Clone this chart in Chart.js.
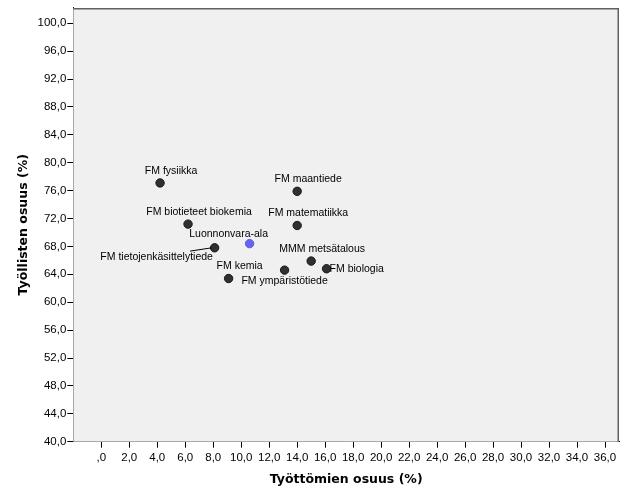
<!DOCTYPE html>
<html>
<head>
<meta charset="utf-8">
<script src="https://cdn.jsdelivr.net/npm/chart.js@4"></script>
<style>
  html, body { margin: 0; padding: 0; background: #ffffff; }
  #wrap { width: 626px; height: 501px; position: relative; }
</style>
</head>
<body>
<div id="wrap"><canvas id="c" width="626" height="501"></canvas></div>
<script>
// ---- data ----
const categories = [
  "FM fysiikka",
  "FM maantiede",
  "FM biotieteet biokemia",
  "FM matematiikka",
  "Luonnonvara-ala",
  "FM tietojenkäsittelytiede",
  "MMM metsätalous",
  "FM biologia",
  "FM kemia",
  "FM ympäristötiede"
];
// Työttömien osuus (%)
const unemployedShare = [4.2, 14.0, 6.2, 14.0, 10.6, 8.1, 15.0, 16.1, 9.1, 13.1];
// Työllisten osuus (%)
const employedShare = [77.1, 75.9, 71.2, 71.0, 68.4, 67.8, 65.9, 64.8, 63.4, 64.6];
const highlighted = ["Luonnonvara-ala"];

const xTickValues = [0, 2, 4, 6, 8, 10, 12, 14, 16, 18, 20, 22, 24, 26, 28, 30, 32, 34, 36];
const xTickLabels = [",0", "2,0", "4,0", "6,0", "8,0", "10,0", "12,0", "14,0", "16,0", "18,0", "20,0", "22,0", "24,0", "26,0", "28,0", "30,0", "32,0", "34,0", "36,0"];
const yTickValues = [40, 44, 48, 52, 56, 60, 64, 68, 72, 76, 80, 84, 88, 92, 96, 100];
const yTickLabels = ["40,0", "44,0", "48,0", "52,0", "56,0", "60,0", "64,0", "68,0", "72,0", "76,0", "80,0", "84,0", "88,0", "92,0", "96,0", "100,0"];

const xTitle = "Työttömien osuus (%)";
const yTitle = "Työllisten osuus (%)";

// ---- style (label placement relative to point, in px) ----
const defaultLabelOffset = { dx: 11, dy: -12, align: "center" };
const labelOffsets = {
  "Luonnonvara-ala": { dx: -21, dy: -9.5, align: "center" },
  "FM tietojenkäsittelytiede": { dx: -58, dy: 9.7, align: "center", leader: { dx: -24.5, dy: 3.3 } },
  "FM biologia": { dx: 3, dy: 0.5, align: "left" },
  "FM ympäristötiede": { dx: 0, dy: 11, align: "center" }
};

const points = categories.map((c, i) => ({ x: unemployedShare[i], y: employedShare[i] }));
const pointColors = categories.map(c => highlighted.includes(c) ? "#6464f2" : "#303030");
const pointBorders = categories.map(c => highlighted.includes(c) ? "#5a5ae0" : "#1a1a1a");

const plotDecor = {
  id: "plotDecor",
  beforeDatasetsDraw(chart) {
    const { ctx, chartArea: a } = chart;
    ctx.save();
    ctx.fillStyle = "#f0f0f0";
    ctx.fillRect(a.left, a.top, a.right - a.left, a.bottom - a.top);
    ctx.strokeStyle = "#606060";
    ctx.lineWidth = 1.5;
    ctx.beginPath();
    ctx.moveTo(a.left, a.top + 0.75);
    ctx.lineTo(a.right - 0.75, a.top + 0.75);
    ctx.lineTo(a.right - 0.75, a.bottom);
    ctx.stroke();
    ctx.restore();
  },
  afterDatasetsDraw(chart) {
    const { ctx } = chart;
    const meta = chart.getDatasetMeta(0);
    ctx.save();
    ctx.font = "10.5px 'Liberation Sans', Arial, sans-serif";
    ctx.fillStyle = "#000";
    ctx.textBaseline = "middle";
    categories.forEach((name, i) => {
      const el = meta.data[i];
      const o = labelOffsets[name] || defaultLabelOffset;
      if (o.leader) {
        ctx.strokeStyle = "#000";
        ctx.lineWidth = 1;
        ctx.beginPath();
        ctx.moveTo(el.x + o.leader.dx, el.y + o.leader.dy);
        ctx.lineTo(el.x - 3, el.y);
        ctx.stroke();
      }
      ctx.textAlign = o.align;
      ctx.fillText(name, el.x + o.dx, el.y + o.dy);
    });
    ctx.restore();
  }
};

new Chart(document.getElementById("c"), {
  type: "scatter",
  data: {
    datasets: [{
      data: points,
      backgroundColor: pointColors,
      borderColor: pointBorders,
      borderWidth: 1,
      pointRadius: 4.2,
      pointHoverRadius: 4.2
    }]
  },
  plugins: [plotDecor],
  options: {
    responsive: false,
    animation: false,
    events: [],
    layout: { padding: { top: 5, right: 7, left: 0, bottom: 0 } },
    plugins: { legend: { display: false }, tooltip: { enabled: false } },
    scales: {
      x: {
        type: "linear",
        min: -2,
        max: 37,
        afterBuildTicks(s) { s.ticks = xTickValues.map(v => ({ value: v })); },
        afterFit(s) { s.height = 59.3; },
        ticks: {
          callback(v) { const k = xTickValues.indexOf(v); return k >= 0 ? xTickLabels[k] : ""; },
          color: "#000",
          font: { family: "'Liberation Sans', Arial, sans-serif", size: 11.5 },
          padding: 3,
          maxRotation: 0,
          autoSkip: false
        },
        grid: { drawOnChartArea: false, drawTicks: true, tickLength: 6, color: "#000", tickColor: "#000" },
        border: { display: true, color: "#000", width: 1 },
        title: {
          display: true,
          text: xTitle,
          color: "#000",
          font: { family: "'DejaVu Sans', Verdana, sans-serif", size: 12.5, weight: "bold" },
          padding: { top: 0, bottom: 14 }
        }
      },
      y: {
        type: "linear",
        min: 40,
        max: 102.2,
        afterBuildTicks(s) { s.ticks = yTickValues.map(v => ({ value: v })); },
        afterFit(s) { s.width = 73.3; },
        ticks: {
          callback(v) { const k = yTickValues.indexOf(v); return k >= 0 ? yTickLabels[k] : ""; },
          color: "#000",
          font: { family: "'Liberation Sans', Arial, sans-serif", size: 11.5 },
          padding: 1,
          autoSkip: false
        },
        grid: { drawOnChartArea: false, drawTicks: true, tickLength: 6, color: "#000", tickColor: "#000" },
        border: { display: true, color: "#000", width: 1 },
        title: {
          display: true,
          text: yTitle,
          color: "#000",
          font: { family: "'DejaVu Sans', Verdana, sans-serif", size: 12.5, weight: "bold" },
          padding: { top: 16, bottom: 0 }
        }
      }
    }
  }
});
</script>
</body>
</html>
